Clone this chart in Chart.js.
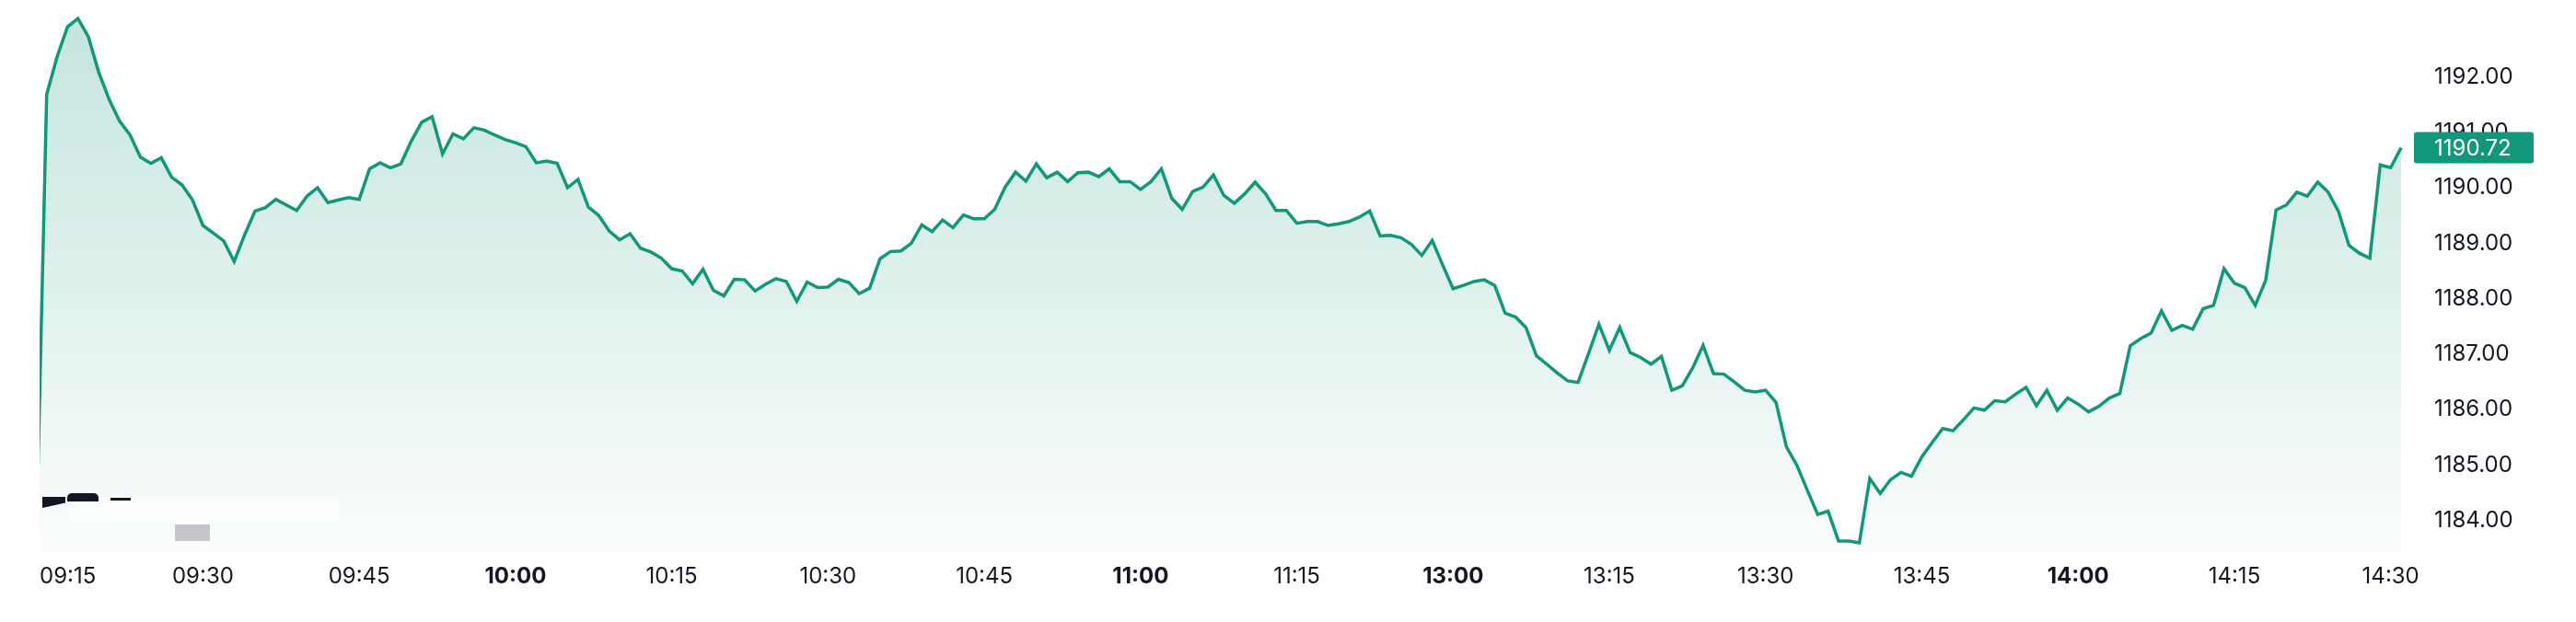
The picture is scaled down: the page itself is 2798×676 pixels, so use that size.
<!DOCTYPE html>
<html>
<head>
<meta charset="utf-8">
<title>Intraday price</title>
<script src="https://cdn.jsdelivr.net/npm/chart.js@4.4.1/dist/chart.umd.min.js"></script>
<style>
  html, body { margin: 0; padding: 0; background: #fff; }
  #wrap { position: relative; width: 2798px; height: 676px; overflow: hidden; }
  .mark { position: absolute; pointer-events: none; }
</style>
</head>
<body>
<div id="wrap">
  <canvas id="price-chart"></canvas>
  <!-- leftovers of the watermark seen in the source screenshot -->
  <div class="mark" style="left:76px;top:540px;width:292px;height:30px;background:rgba(255,255,255,0.5)"></div>
  <div class="mark" style="left:46px;top:540px;width:25px;height:12px;background:#131722;clip-path:polygon(0 0,100% 0,100% 55%,0 100%)"></div>
  <div class="mark" style="left:73px;top:536px;width:34px;height:9px;background:#131722;border-radius:5px 5px 0 0"></div>
  <div class="mark" style="left:120px;top:541px;width:22px;height:3px;background:#131722"></div>
  <div class="mark" style="left:190px;top:570px;width:38px;height:18px;background:#c5c5cc"></div>
</div>

<script>
// sessions (first minute is the one just before the open)
const sessions = [['09:14', '11:29'], ['13:00', '14:31']];

// one close per minute
const prices = [
  1183.60, 1191.68, 1192.36, 1192.90, 1193.05, 1192.72, 1192.08, 1191.59, 1191.20, 1190.95,
  1190.55, 1190.44, 1190.54, 1190.19, 1190.05, 1189.78, 1189.32, 1189.18, 1189.04, 1188.67,
  1189.15, 1189.58, 1189.64, 1189.79, 1189.69, 1189.59, 1189.85, 1190.00, 1189.73, 1189.78,
  1189.82, 1189.79, 1190.34, 1190.45, 1190.36, 1190.43, 1190.84, 1191.18, 1191.28, 1190.61,
  1190.97, 1190.88, 1191.08, 1191.04, 1190.95, 1190.87, 1190.81, 1190.74, 1190.45, 1190.48,
  1190.44, 1190.00, 1190.15, 1189.65, 1189.50, 1189.22, 1189.06, 1189.17, 1188.91, 1188.84,
  1188.73, 1188.54, 1188.50, 1188.27, 1188.53, 1188.15, 1188.05, 1188.35, 1188.34, 1188.14,
  1188.26, 1188.36, 1188.31, 1187.95, 1188.30, 1188.20, 1188.21, 1188.35, 1188.29, 1188.09,
  1188.19, 1188.72, 1188.85, 1188.86, 1189.00, 1189.33, 1189.21, 1189.42, 1189.28, 1189.51,
  1189.44, 1189.44, 1189.61, 1190.01, 1190.28, 1190.12, 1190.43, 1190.18, 1190.28, 1190.11,
  1190.27, 1190.28, 1190.20, 1190.34, 1190.11, 1190.11, 1189.97, 1190.11, 1190.34, 1189.81,
  1189.61, 1189.93, 1190.01, 1190.23, 1189.86, 1189.72, 1189.89, 1190.10, 1189.89, 1189.59,
  1189.59, 1189.36, 1189.39, 1189.39, 1189.32, 1189.35, 1189.39, 1189.47, 1189.58, 1189.13,
  1189.14, 1189.10, 1188.98, 1188.78, 1189.05, 1188.61, 1188.18, 1188.24, 1188.31, 1188.34,
  1188.24, 1187.74, 1187.67, 1187.48, 1186.97, 1186.82, 1186.66, 1186.52, 1186.49, 1187.01,
  1187.54, 1187.07, 1187.48, 1187.03, 1186.94, 1186.82, 1186.96, 1186.35, 1186.43, 1186.75,
  1187.16, 1186.65, 1186.64, 1186.50, 1186.35, 1186.32, 1186.35, 1186.13, 1185.33, 1185.00,
  1184.55, 1184.11, 1184.17, 1183.63, 1183.63, 1183.60, 1184.76, 1184.49, 1184.74, 1184.87,
  1184.80, 1185.15, 1185.41, 1185.66, 1185.62, 1185.82, 1186.03, 1185.99, 1186.16, 1186.14,
  1186.28, 1186.40, 1186.07, 1186.35, 1185.99, 1186.21, 1186.10, 1185.96, 1186.06, 1186.21,
  1186.29, 1187.15, 1187.28, 1187.38, 1187.78, 1187.43, 1187.52, 1187.45, 1187.82, 1187.88,
  1188.54, 1188.28, 1188.20, 1187.88, 1188.33, 1189.60, 1189.69, 1189.92, 1189.85, 1190.10,
  1189.92, 1189.57, 1188.96, 1188.82, 1188.73, 1190.41, 1190.36, 1190.72
];

const tickLabels = ['09:15', '09:30', '09:45', '10:00', '10:15', '10:30', '10:45', '11:00',
  '11:15', '13:00', '13:15', '13:30', '13:45', '14:00', '14:15', '14:30'];
const priceTicks = [1184, 1185, 1186, 1187, 1188, 1189, 1190, 1191, 1192];

// visible window
const xMin = 0.32;
const yMin = 1183.433;
const yMax = 1193.118;

const FONT = 'Inter, "Noto Sans", sans-serif';
const TEXT = '#131722';
const GREEN = '#13977a';

function buildTimes(ranges) {
  const toMin = s => { const [h, m] = s.split(':').map(Number); return h * 60 + m; };
  const pad = n => String(n).padStart(2, '0');
  const out = [];
  ranges.forEach(([from, to]) => {
    for (let t = toMin(from); t <= toMin(to); t++) out.push(`${pad(Math.floor(t / 60))}:${pad(t % 60)}`);
  });
  return out;
}

const times = buildTimes(sessions);

// time labels: centred on their minute, but kept inside the plot on the left
const timeAxisLabels = {
  id: 'timeAxisLabels',
  afterDraw(chart) {
    const { ctx, chartArea, scales } = chart;
    ctx.save();
    ctx.fillStyle = TEXT;
    ctx.textAlign = 'left';
    ctx.textBaseline = 'middle';
    tickLabels.forEach(label => {
      const idx = times.indexOf(label);
      if (idx < 0) return;
      ctx.font = `${label.endsWith(':00') ? 'bold ' : ''}24px ${FONT}`;
      const w = ctx.measureText(label).width;
      const x = Math.max(scales.x.getPixelForValue(idx) - w / 2, chartArea.left);
      ctx.fillText(label, x, chartArea.bottom + 27);
    });
    ctx.restore();
  }
};

// last price tag on the price scale
const lastPriceBadge = {
  id: 'lastPriceBadge',
  afterDraw(chart) {
    const { ctx, chartArea, scales } = chart;
    const last = prices[prices.length - 1];
    const y = scales.y.getPixelForValue(last);
    const left = chartArea.right + 14;
    ctx.save();
    ctx.fillStyle = GREEN;
    ctx.beginPath();
    if (ctx.roundRect) ctx.roundRect(left, y - 17, 130, 34, 3);
    else ctx.rect(left, y - 17, 130, 34);
    ctx.fill();
    ctx.fillStyle = '#fff';
    ctx.font = `24px ${FONT}`;
    ctx.textAlign = 'left';
    ctx.textBaseline = 'middle';
    ctx.fillText(last.toFixed(2), chartArea.right + 36, y + 1);
    ctx.restore();
  }
};

new Chart(document.getElementById('price-chart'), {
  type: 'line',
  data: {
    datasets: [{
      data: prices.map((p, i) => ({ x: i, y: p })),
      borderColor: GREEN,
      borderWidth: 3.5,
      pointRadius: 0,
      tension: 0,
      fill: 'start',
      clip: { left: 0, top: 8, right: 8, bottom: 0 },
      backgroundColor: (c) => {
        const area = c.chart.chartArea;
        if (!area) return 'rgba(19,151,122,0.12)';
        const g = c.chart.ctx.createLinearGradient(0, area.top, 0, area.bottom);
        g.addColorStop(0, 'rgba(19,151,122,0.25)');
        g.addColorStop(1, 'rgba(19,151,122,0.02)');
        return g;
      }
    }]
  },
  options: {
    responsive: true,
    maintainAspectRatio: false,
    animation: false,
    events: [],
    layout: { padding: { left: 43, top: 16, right: 0, bottom: 76 } },
    plugins: {
      legend: { display: false },
      tooltip: { enabled: false }
    },
    scales: {
      x: { type: 'linear', display: false, min: xMin, max: prices.length - 1 },
      y: {
        position: 'right',
        min: yMin,
        max: yMax,
        grid: { display: false, drawTicks: false },
        border: { display: false },
        ticks: {
          padding: 36,
          color: TEXT,
          font: { family: FONT, size: 24 },
          callback: v => Number(v).toFixed(2)
        },
        afterBuildTicks: s => { s.ticks = priceTicks.map(v => ({ value: v })); },
        // fixed width so the plot ends where the reference does; no extra top/bottom room
        afterFit: s => { s.width = 190; s.paddingTop = 0; s.paddingBottom = 0; }
      }
    }
  },
  plugins: [timeAxisLabels, lastPriceBadge]
});
</script>
</body>
</html>
